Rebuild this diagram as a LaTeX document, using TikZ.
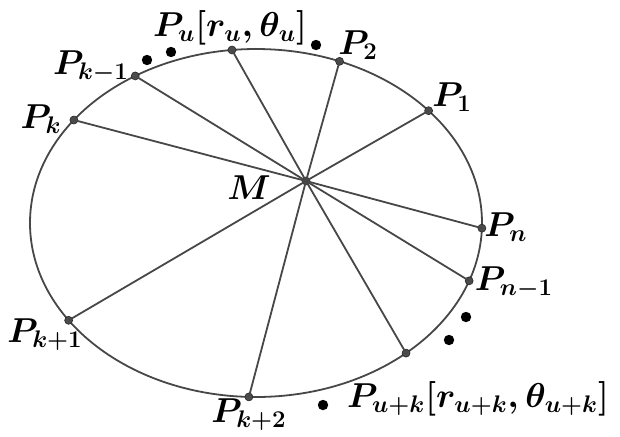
\documentclass[tikz,border=0pt]{standalone}
\usepackage{amsmath}
\usetikzlibrary{calc}
\begin{document}
\begin{tikzpicture}[x=0.5pt,y=0.5pt,
  pt/.style={circle,fill=black!70,draw=black!85,line width=0.3pt,inner sep=0pt,minimum size=4pt},
  bigdot/.style={circle,fill=black,inner sep=0pt,minimum size=5.2pt},
  lab/.style={inner sep=0pt,font=\fontsize{16.8}{20}\selectfont\boldmath},
  ray/.style={draw=black!72,line width=0.9pt}]
\useasboundingbox (0,0) rectangle (620,436);
\coordinate (C) at (256,213);
\draw[draw=black!72,line width=0.9pt] (C) ellipse [x radius=113pt, y radius=87pt];
\node[pt] (M) at (306,255) {};
\foreach \n/\a in {Pu/96.1, P2/68.3, P1/40.2, Pkm/122.3, Pk/143.7, Pn/-1.7, Pnm/-19.4, Puk/-48.4, Pkpp/268.2, Pkp/214.0}{
  \node[pt] (\n) at ($(C)+({226*cos(\a)},{174*sin(\a)})$) {};
}
\foreach \n in {Pu,P2,P1,Pkm,Pk,Pn,Pnm,Puk,Pkpp,Pkp}{
  \draw[ray] (M.center) -- (\n.center);
}
\node[lab] (lM) at (249,248) {$M$};
\node[lab] (lPu) at (230,408) {$P_u[r_u,\theta_u]$};
\node[lab] (lP2) at (358,391) {$P_2$};
\node[lab] (lP1) at (452,339) {$P_1$};
\node[lab] (lPkm) at (91,369) {$P_{k-1}$};
\node[lab] (lPk) at (41,317) {$P_k$};
\node[lab] (lPn) at (506,209) {$P_n$};
\node[lab] (lPnm) at (514,153) {$P_{n-1}$};
\node[lab] (lPuk) at (478,37) {$P_{u+k}[r_{u+k},\theta_{u+k}]$};
\node[lab] (lPkpp) at (249,21) {$P_{k+2}$};
\node[lab] (lPkp) at (45,101) {$P_{k+1}$};
\node[bigdot] (d1) at (147,376) {};
\node[bigdot] (d2) at (171,384) {};
\node[bigdot] (d3) at (316,391) {};
\node[bigdot] (d4) at (466,119) {};
\node[bigdot] (d5) at (449,96) {};
\node[bigdot] (d6) at (323,31) {};
\end{tikzpicture}
\end{document}
